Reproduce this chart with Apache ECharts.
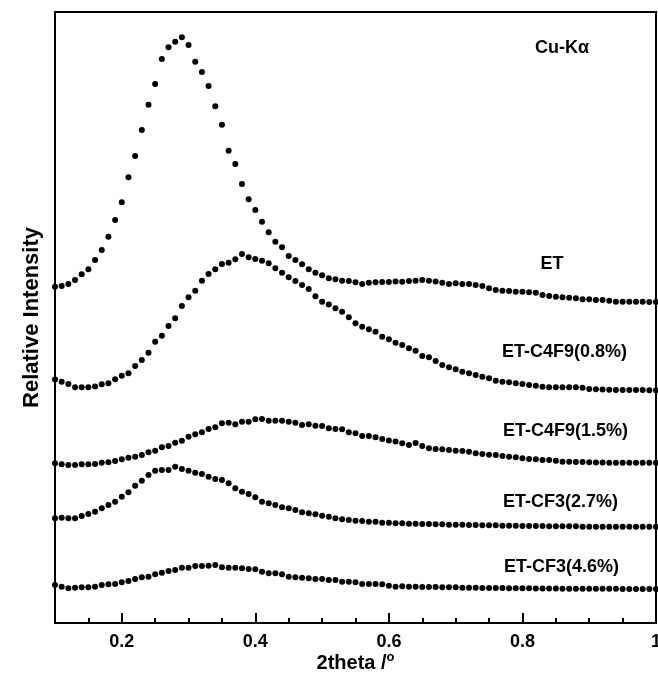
<!DOCTYPE html>
<html>
<head>
<meta charset="utf-8">
<script src="https://cdn.jsdelivr.net/npm/echarts@6/dist/echarts.min.js"></script>
<style>
  html, body { margin: 0; padding: 0; background: #fff; }
  #chart { width: 658px; height: 678px; }
</style>
</head>
<body>
<div id="chart"></div>
<script>
// 2theta sampling positions (degrees)
const twoTheta = [
  0.10, 0.11, 0.12, 0.13, 0.14, 0.15, 0.16, 0.17, 0.18, 0.19,
  0.20, 0.21, 0.22, 0.23, 0.24, 0.25, 0.26, 0.27, 0.28, 0.29,
  0.30, 0.31, 0.32, 0.33, 0.34, 0.35, 0.36, 0.37, 0.38, 0.39,
  0.40, 0.41, 0.42, 0.43, 0.44, 0.45, 0.46, 0.47, 0.48, 0.49,
  0.50, 0.51, 0.52, 0.53, 0.54, 0.55, 0.56, 0.57, 0.58, 0.59,
  0.60, 0.61, 0.62, 0.63, 0.64, 0.65, 0.66, 0.67, 0.68, 0.69,
  0.70, 0.71, 0.72, 0.73, 0.74, 0.75, 0.76, 0.77, 0.78, 0.79,
  0.80, 0.81, 0.82, 0.83, 0.84, 0.85, 0.86, 0.87, 0.88, 0.89,
  0.90, 0.91, 0.92, 0.93, 0.94, 0.95, 0.96, 0.97, 0.98, 0.99, 1.00
];

// Relative intensity (arb. units, curves stacked with offsets)
const et = [
  336.3, 337, 339, 343, 348.7, 353.7, 363, 373, 386.3, 403,
  420.7, 445.7, 467, 493, 518.3, 539, 564, 575.7, 581.3, 585.7,
  578, 561.3, 551, 537, 516.7, 498.3, 472.3, 459, 439, 423.7,
  413, 401.3, 390.7, 381.3, 375.7, 367, 363, 358.7, 353.7, 350.3,
  347.7, 344.7, 343.7, 342.3, 342, 340.7, 339, 340.3, 340.7, 341,
  341, 341.5, 341.3, 342, 342.3, 343, 342.3, 341.5, 340.3, 339,
  339.7, 339, 339, 338, 337, 334.7, 333, 332.3, 332, 331.3,
  331.3, 330.7, 330.3, 328, 327, 326.3, 325.7, 325.3, 324.7, 323.7,
  323.7, 323, 323, 322.3, 321.3, 321.3, 321.3, 321.3, 321.3, 321, 321
];

const etC4F9_08 = [
  243.5, 241.3, 239, 235.7, 235.7, 235.7, 236.5, 238.7, 239.7, 243.7,
  247.3, 249.7, 257, 263, 270.3, 281.3, 287.3, 297, 304.7, 317,
  325.7, 332.3, 342.3, 349, 353.7, 359, 360.3, 363.7, 369, 365.7,
  364, 362.3, 359.7, 354.7, 350.3, 345.7, 342, 338, 334, 326.7,
  321.3, 318.5, 314.7, 311.3, 305.7, 299.7, 296.3, 293.7, 291.3, 286.3,
  283.7, 280.3, 278, 274.7, 272.3, 267, 265.7, 262, 258, 255.7,
  253.7, 251.3, 249.7, 248, 246.3, 244.7, 242.3, 241.3, 240.7, 239.7,
  239, 238, 237.3, 236.3, 235.7, 235.7, 235.7, 235.7, 235.7, 235.3,
  234, 233.7, 233.5, 233.3, 233, 233, 233, 233, 233, 232.7, 232.7
];

const etC4F9_15 = [
  159.7, 158.7, 158, 158, 158.7, 158.7, 159, 160.3, 160.7, 162,
  163.7, 165.3, 166.3, 168, 170.7, 172.3, 175.7, 177, 180.3, 182.3,
  186.3, 188.7, 190.7, 194, 195.7, 199.7, 200.3, 198.7, 201.3, 201.3,
  203.7, 204, 202.3, 202.3, 202.3, 201.3, 200.3, 198, 198.7, 197.3,
  197, 194.7, 194, 193.7, 190.7, 189.7, 187, 187, 185.7, 184,
  182.5, 181.5, 179.7, 178, 180, 177, 174.7, 174, 173.7, 173,
  172.3, 172, 171.3, 169.7, 169, 168.3, 168, 167, 166.3, 165.7,
  164.7, 164, 163.7, 163, 163, 162.3, 161.3, 161.3, 161, 161,
  160.7, 160.5, 160.5, 160.3, 160.3, 160.3, 160.3, 160.3, 160.3, 160.3, 160.3
];

const etCF3_27 = [
  104.7, 105.3, 104.7, 104.7, 107, 109, 111.3, 114.7, 118, 121.3,
  126.3, 130.7, 137.3, 142.3, 148, 152.3, 153, 153, 156.3, 154,
  152.3, 150.3, 149, 146.3, 144, 143, 139.7, 134.7, 131.3, 129,
  125.7, 121.3, 119.7, 118, 115.7, 114.7, 113, 110.7, 109.7, 108.7,
  107.3, 106.3, 104.7, 103.7, 103, 102.3, 102, 101.3, 101.3, 100.3,
  100.3, 99.7, 99.7, 99.3, 99.3, 99, 99, 98.7, 98.7, 98.3,
  98.3, 98.3, 98, 98, 97.7, 97.7, 97.7, 97.3, 97.3, 97.3,
  97, 97, 97, 97, 96.7, 96.7, 96.7, 96.7, 96.7, 96.3,
  96.3, 96.3, 96.3, 96.3, 96.3, 96.3, 96.3, 96.3, 96.3, 96.3, 96.3
];

const etCF3_46 = [
  38, 36.3, 34.7, 35.3, 35.7, 35.7, 36.3, 38, 38.7, 39,
  40.7, 42, 44, 45.7, 46.3, 48.7, 50.3, 52, 53, 55.3,
  55.3, 57, 57, 57.3, 58, 55.7, 55.3, 55.3, 54.7, 54,
  53.7, 51.3, 49.7, 49.7, 48.7, 46.3, 45.7, 45.3, 44.7, 44,
  44, 43, 43, 41.3, 41.3, 40.7, 39, 39, 39, 38.7,
  37.3, 36.3, 36.7, 36.3, 36.3, 36, 36, 36, 35.7, 35.7,
  35.7, 35.3, 35.3, 35.3, 35, 35, 35, 35, 34.7, 34.7,
  34.7, 34.7, 34.5, 34.5, 34.5, 34.5, 34.3, 34.3, 34.3, 34.3,
  34.3, 34.3, 34.2, 34.2, 34.2, 34, 34, 34, 34, 34, 34
];

const seriesNames = ['ET', 'ET-C4F9(0.8%)', 'ET-C4F9(1.5%)', 'ET-CF3(2.7%)', 'ET-CF3(4.6%)'];
const seriesValues = [et, etC4F9_08, etC4F9_15, etCF3_27, etCF3_46];

const FONT = '"Liberation Sans", Arial, Helvetica, sans-serif';
const BLACK = '#000';

// Plot frame (pixels)
const PLOT_LEFT = 55, PLOT_RIGHT = 2, PLOT_TOP = 12, PLOT_BOTTOM = 55;
const PLOT_WIDTH = 658 - PLOT_LEFT - PLOT_RIGHT;
const X_MIN = 0.1, X_MAX = 1.0, Y_MAX = 611;
// The labelled scale starts at 0, so its grid reaches left of the frame by one 0.1 step.
const MAJOR_GRID_LEFT = PLOT_LEFT - PLOT_WIDTH * (X_MIN - 0) / (X_MAX - X_MIN);

const frameLine = { show: true, onZero: false, lineStyle: { color: BLACK, width: 2 } };

const chart = echarts.init(document.getElementById('chart'), null, { renderer: 'canvas' });

function toPairs(values) {
  return twoTheta.map((x, i) => [x, values[i]]);
}

function seriesLabel(text, x, y, align) {
  return {
    type: 'text',
    x: x,
    y: y,
    style: {
      text: text,
      fill: BLACK,
      font: 'bold 18px ' + FONT,
      textAlign: align,
      textVerticalAlign: 'middle'
    }
  };
}

const option = {
  animation: false,
  backgroundColor: '#fff',
  grid: [
    {
      left: PLOT_LEFT, right: PLOT_RIGHT, top: PLOT_TOP, bottom: PLOT_BOTTOM,
      show: false, containLabel: false, outerBoundsMode: 'none'
    },
    {
      left: MAJOR_GRID_LEFT, right: PLOT_RIGHT, top: PLOT_TOP, bottom: PLOT_BOTTOM,
      show: false, containLabel: false, outerBoundsMode: 'none'
    }
  ],
  xAxis: [
    {
      // data axis with minor ticks every 0.05
      gridIndex: 0,
      type: 'value',
      min: X_MIN,
      max: X_MAX,
      interval: 0.05,
      position: 'bottom',
      axisLine: frameLine,
      axisTick: { show: true, inside: true, length: 5, lineStyle: { color: BLACK, width: 2 } },
      axisLabel: { show: false },
      splitLine: { show: false },
      name: '2theta /{sup|o}',
      nameLocation: 'middle',
      nameGap: 28,
      nameTextStyle: {
        color: BLACK,
        fontFamily: FONT,
        fontWeight: 'bold',
        fontSize: 20,
        rich: {
          sup: { fontFamily: FONT, fontSize: 13, color: BLACK, padding: [0, 0, 11, 0] }
        }
      },
      z: 5
    },
    {
      // top frame edge
      gridIndex: 0,
      type: 'value',
      min: X_MIN,
      max: X_MAX,
      position: 'top',
      axisLine: frameLine,
      axisTick: { show: false },
      axisLabel: { show: false },
      splitLine: { show: false }
    },
    {
      // labelled major ticks every 0.2
      gridIndex: 1,
      type: 'value',
      min: 0,
      max: X_MAX,
      interval: 0.2,
      position: 'bottom',
      axisLine: { show: false, onZero: false },
      axisTick: { show: true, inside: true, length: 10, lineStyle: { color: BLACK, width: 2 } },
      axisLabel: {
        color: BLACK,
        fontFamily: FONT,
        fontWeight: 'bold',
        fontSize: 18,
        margin: 10,
        formatter: v => (v < 1e-9 ? '' : (Math.abs(v - 1) < 1e-9 ? '1' : v.toFixed(1)))
      },
      splitLine: { show: false },
      z: 5
    }
  ],
  yAxis: [
    {
      gridIndex: 0,
      type: 'value',
      min: 0,
      max: Y_MAX,
      position: 'left',
      axisLine: frameLine,
      axisTick: { show: false },
      axisLabel: { show: false },
      splitLine: { show: false },
      name: 'Relative Intensity',
      nameLocation: 'middle',
      nameGap: 12,
      nameTextStyle: {
        color: BLACK,
        fontFamily: FONT,
        fontWeight: 'bold',
        fontSize: 22
      }
    },
    {
      // right frame edge
      gridIndex: 0,
      type: 'value',
      min: 0,
      max: Y_MAX,
      position: 'right',
      axisLine: frameLine,
      axisTick: { show: false },
      axisLabel: { show: false },
      splitLine: { show: false }
    },
    {
      gridIndex: 1,
      type: 'value',
      min: 0,
      max: 1,
      show: false
    }
  ],
  series: seriesValues.map((vals, i) => ({
    name: seriesNames[i],
    type: 'scatter',
    xAxisIndex: 0,
    yAxisIndex: 0,
    data: toPairs(vals),
    symbol: 'circle',
    symbolSize: 6,
    itemStyle: { color: BLACK, opacity: 1 },
    clip: false,
    z: 3
  })),
  graphic: [
    seriesLabel('Cu-K\u03b1', 562, 48, 'center'),
    seriesLabel('ET', 552, 264, 'center'),
    seriesLabel('ET-C4F9(0.8%)', 502, 352, 'left'),
    seriesLabel('ET-C4F9(1.5%)', 503, 431, 'left'),
    seriesLabel('ET-CF3(2.7%)', 503, 502, 'left'),
    seriesLabel('ET-CF3(4.6%)', 504, 567, 'left')
  ]
};

chart.setOption(option);
</script>
</body>
</html>
